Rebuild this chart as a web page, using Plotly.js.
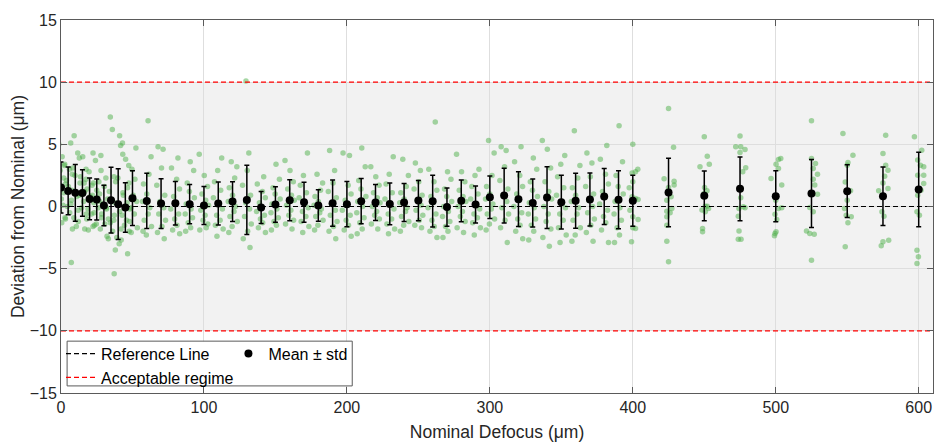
<!DOCTYPE html>
<html>
<head>
<meta charset="utf-8">
<script src="https://cdn.plot.ly/plotly-3.0.1.min.js"></script>
<style>html,body{margin:0;padding:0;background:#fff;}#chart{width:935px;height:442px;}</style>
</head>
<body>
<div id="chart"></div>
<script>
// ---- Data ----
const nominalX = [0,5,10,15,20,25,30,35,40,45,50,
  60,70,80,90,100,110,120,130,140,150,160,170,180,190,200,210,220,230,240,250,260,270,
  280,290,300,310,320,330,340,350,360,370,380,390,400,
  425,450,475,500,525,550,575,600];

const meanDev = [1.53,1.25,1.10,1.09,0.61,0.56,0.08,0.51,0.19,-0.08,0.67,
  0.45,0.24,0.27,0.19,0.08,0.24,0.40,0.53,
  -0.08,0.16,0.51,0.35,0.08,0.27,0.19,0.43,0.32,0.21,0.32,0.48,0.43,-0.05,
  0.46,0.16,0.75,0.88,0.59,0.29,0.72,0.35,0.46,0.56,0.80,0.54,0.47,
  1.13,0.86,1.42,0.83,1.05,1.23,0.83,1.37];

const stdDev = [2.05,1.92,2.28,1.87,1.68,1.65,1.63,2.64,2.85,2.00,2.20,
  2.22,2.00,1.75,1.58,1.52,1.73,1.60,2.78,
  1.29,1.43,1.65,1.61,1.27,1.86,1.82,1.82,1.45,1.68,1.52,1.62,2.08,1.54,
  1.68,1.49,1.71,2.20,2.20,1.93,2.48,2.16,2.21,2.13,2.25,2.33,2.05,
  2.76,2.00,2.56,2.05,2.73,2.12,2.35,3.00];

// individual measurements: x offset from the nominal position, and deviation
const sampleDX = [
  [-1.5,0.8,2.6,-0.5,1.9,3.1,-2.4,0.2,1.4,-1.0,2.8,0.5],
  [1.8,-2.7,0.9,2.9,-1.2,0.1,-3.2,2.3,-0.5,1.1,-1.9,3.0],
  [-0.8,2.8,-1.7,-0.2,3.3,-2.4,1.0,-3.1,2.0,-1.0,0.7,-2.8],
  [-3.3,0.2,2.5,-1.4,1.2,3.2,-2.2,0.8,-0.6,2.7,-2.9,1.6],
  [2.4,-0.4,-2.6,1.7,-3.4,0.5,2.9,-1.1,1.3,-2.0,3.4,-0.9],
  [-0.9,3.0,1.5,-2.3,0.0,-3.0,2.1,1.0,-1.8,3.3,-0.3,-2.6],
  [-2.1,1.4,0.3,-3.0,2.6,-0.8,1.9,-1.6,3.1,0.6,-2.5,2.2],
  [-0.5,0.9,2.1,3.2,-1.2,0.1,-3.2,2.3,-0.5,1.1,-1.9,3.0],
  [1.0,3.0,3.2,-0.2,3.3,-2.4,1.0,-3.1,2.0,-1.0,0.7,-2.8],
  [-3.3,0.2,2.5,-1.4,1.2,3.2,-2.2,0.8,-0.6,2.7,-2.9,1.6],
  [2.4,-0.4,-2.6,1.7,-3.4,0.5,2.9,-1.1,1.3,-2.0,3.4,-0.9],
  [0.9,3.0,1.5,-2.3,0.0,-3.0,2.1,1.0,-1.8,3.3,-0.3,-2.6],
  [-2.1,1.4,0.3,-3.0,2.6,-0.8,1.9,-1.6,3.1,0.6,-2.5,2.2],
  [1.8,-2.7,0.9,2.9,-1.2,0.1,-3.2,2.3,-0.5,1.1,-1.9,3.0],
  [0.4,2.8,-1.7,-0.2,3.3,-2.4,1.0,-3.1,2.0,-1.0,0.7,-2.8],
  [-3.3,0.2,2.5,-1.4,1.2,3.2,-2.2,0.8,-0.6,2.7,-2.9,1.6],
  [2.4,-0.4,-2.6,1.7,-3.4,0.5,2.9,-1.1,1.3,-2.0,3.4,-0.9],
  [-0.9,3.0,1.5,-2.3,0.0,-3.0,2.1,1.0,-1.8,3.3,-0.3,-2.6],
  [-0.6,1.4,0.3,-3.0,2.6,-0.8,1.9,-1.6,3.1,0.6,-2.5,2.2],
  [1.8,-2.7,0.9,2.9,-1.2,0.1,-3.2,2.3,-0.5,1.1,-1.9,3.0],
  [0.4,2.8,-1.7,-0.2,3.3,-2.4,1.0,-3.1,2.0,-1.0,0.7,-2.8],
  [-3.3,0.2,2.5,-1.4,1.2,3.2,-2.2,0.8,-0.6,2.7,-2.9,1.6],
  [2.4,-0.4,-2.6,1.7,-3.4,0.5,2.9,-1.1,1.3,-2.0,3.4,-0.9],
  [-0.9,3.0,1.5,-2.3,0.0,-3.0,2.1,1.0,-1.8,3.3,-0.3,-2.6],
  [-2.1,1.4,0.3,-3.0,2.6,-0.8,1.9,-1.6,3.1,0.6,-2.5,2.2],
  [1.8,-2.7,0.9,2.9,-1.2,0.1,-3.2,2.3,-0.5,1.1,-1.9,3.0],
  [0.4,2.8,-1.7,-0.2,3.3,-2.4,1.0,-3.1,2.0,-1.0,0.7,-2.8],
  [-3.3,0.2,2.5,-1.4,1.2,3.2,-2.2,0.8,-0.6,2.7,-2.9,1.6],
  [2.4,-0.4,-2.6,1.7,-3.4,0.5,2.9,-1.1,1.3,-2.0,3.4,-0.9],
  [-0.9,3.0,1.5,-2.3,0.0,-3.0,2.1,1.0,-1.8,3.3,-0.3,-2.6],
  [-2.1,1.4,0.3,-3.0,2.6,-0.8,1.9,-1.6,3.1,0.6,-2.5,2.2],
  [1.8,-2.7,0.9,2.9,-1.2,0.1,-3.2,2.3,-0.5,1.1,-1.9,3.0],
  [0.4,2.8,-1.7,-0.2,3.3,-2.4,1.0,-3.1,2.0,-1.0,0.7,-2.8],
  [-3.3,0.2,2.5,-1.4,1.2,3.2,-2.2,0.8,-0.6,2.7,-2.9,1.6],
  [2.4,-0.4,-2.6,1.7,-3.4,0.5,2.9,-1.1,1.3,-2.0,3.4,-0.9],
  [-0.9,3.0,1.5,-2.3,0.0,-3.0,2.1,1.0,-1.8,3.3,-0.3,-2.6],
  [-2.1,1.4,0.3,-3.0,2.6,-0.8,1.9,-1.6,3.1,0.6,-2.5,2.2],
  [1.8,-2.7,0.9,2.9,-1.2,0.1,-3.2,2.3,-0.5,1.1,-1.9,3.0],
  [0.4,2.8,-1.7,-0.2,3.3,-2.4,1.0,-3.1,2.0,-1.0,0.7,-2.8],
  [-3.3,0.2,2.5,-1.4,1.2,3.2,-2.2,0.8,-0.6,2.7,-2.9,1.6],
  [2.4,-0.4,-2.6,1.7,-3.4,0.5,2.9,-1.1,1.3,-2.0,3.4,-0.9],
  [-0.9,3.0,1.5,-2.3,0.0,-3.0,2.1,1.0,-1.8,3.3,-0.3,-2.6],
  [-2.1,1.4,0.3,-3.0,2.6,-0.8,1.9,-1.6,3.1,0.6,-2.5,2.2],
  [1.8,-2.7,0.9,2.9,-1.2,0.1,-3.2,2.3,-0.5,1.1,-1.9,3.0],
  [0.4,2.8,-1.7,-0.2,3.3,-2.4,1.0,-3.1,2.0,-1.0,0.7,-2.8],
  [0,-0.5,1.9,3.5,0,1.9,3.7,-0.5,0,3.7,0,1.9,-0.9,-2.0,-2.5],
  [0,3.5,-3.1,3.9,3.9,0,1.8,-1.2,2.3,-1.2,1.1,-1.2,-1.2,-1.2,0],
  [0,2.1,-3.0,3.5,0.2,1.9,-0.2,2.1,-1.6,3.0,0.7,-1.2,-1.2,0.7],
  [0,-3.0,0.5,3.5,0,4.0,1.9,0.5,0.5,2.3,-0.7,-1.2,-0.7,-1.2,0.7,3.5],
  [3.5,1.9,0.2,1.9,-3.3,4.2,0,1.9,4.2,-0.5,0.7,0.2,-0.5,-0.9],
  [0,0,2.8,1.2,4.2,1.2,2.3,4.2,-1.2,1.2,-3.5,-1.2,1.9,0],
  [-3.0,4.0,0.5,0,-1.4,2.3,0,-1.9,-0.7,0.5,-1.4,2.8],
  [1.9,0,1.9,3.5,1.2,0,3.5,-3.0,-0.7,0.7,4.0,0,-1.2],
  [-3.0,2.1,-0.7,3.5,1.2,-0.7,3.5,1.6,-0.7,-1.2,0.5,-1.2,-0.2,-1.2,3.5]
];

const sampleDev = [
  [5.0,4.0,3.4,2.9,2.3,1.8,1.2,0.6,0.1,-0.4,-0.9,-1.3],
  [5.1,3.3,3.0,2.6,2.1,1.6,1.1,0.5,0.0,-0.5,-1.0,-1.8],
  [5.7,3.9,3.1,2.5,1.9,1.3,0.8,0.2,-0.3,-0.9,-1.6,-4.5],
  [4.3,4.0,3.0,2.4,1.9,1.4,0.9,0.4,-0.1,-0.6,-1.2,-1.8],
  [4.3,2.8,2.2,1.7,1.2,0.8,0.3,-0.2,-0.6,-1.0,-1.5,-1.9],
  [3.7,2.9,2.0,1.9,1.3,0.9,0.4,-0.1,-0.5,-0.9,-1.4,-1.6],
  [4.1,2.3,1.6,1.0,0.6,0.2,-0.2,-0.6,-1.0,-1.4,-1.8,-2.4],
  [7.2,6.2,2.4,2.0,1.2,0.5,-0.1,-0.7,-1.3,-2.0,-2.6,-3.5],
  [5.7,5.1,4.2,2.3,1.1,0.3,-0.4,-1.1,-1.8,-2.5,-3.0,-5.4],
  [4.9,3.8,1.9,0.9,0.3,-0.2,-0.7,-1.1,-1.5,-2.0,-2.7,-3.8],
  [4.7,3.0,3.3,2.2,1.5,0.9,0.4,-0.1,-0.6,-1.2,-1.7,-2.1],
  [6.9,4.0,2.6,1.8,1.0,0.4,-0.1,-0.6,-1.1,-1.6,-2.3,-2.0],
  [4.8,4.6,3.1,1.7,0.9,0.4,-0.1,-0.6,-1.1,-1.6,-2.1,-2.6],
  [3.9,3.1,2.2,1.4,0.8,0.3,-0.2,-0.6,-1.0,-1.5,-1.9,-2.2],
  [3.6,2.9,1.9,1.2,0.7,0.2,-0.2,-0.6,-0.9,-1.3,-1.7,-2.0],
  [4.2,2.5,1.6,1.0,0.5,0.1,-0.3,-0.7,-1.1,-1.4,-1.9,-1.7],
  [3.9,2.9,2.0,1.3,0.7,0.2,-0.2,-0.7,-1.1,-1.5,-1.8,-2.4],
  [3.6,3.2,2.3,1.5,0.9,0.4,0.0,-0.4,-0.8,-1.2,-1.6,-2.1],
  [10.1,4.3,2.9,1.7,0.9,0.3,-0.2,-0.8,-1.4,-2.0,-2.6,-3.3],
  [2.4,1.8,1.2,0.7,0.3,-0.1,-0.4,-0.7,-1.0,-1.3,-1.7,-2.1],
  [3.4,2.2,1.5,1.0,0.6,0.2,-0.2,-0.5,-0.9,-1.2,-1.5,-1.9],
  [3.7,2.9,2.0,1.4,0.9,0.5,0.1,-0.3,-0.7,-1.1,-1.4,-1.8],
  [4.3,2.5,1.7,1.1,0.7,0.3,-0.1,-0.4,-0.8,-1.2,-1.6,-2.1],
  [2.6,1.9,1.3,0.8,0.4,0.1,-0.2,-0.5,-0.8,-1.1,-1.5,-1.9],
  [4.5,2.9,1.9,1.2,0.7,0.2,-0.3,-0.7,-1.2,-1.6,-2.0,-2.6],
  [4.1,4.3,1.7,1.0,0.5,0.1,-0.3,-0.7,-1.1,-1.5,-1.9,-2.4],
  [4.7,3.2,2.1,1.4,0.8,0.4,0.0,-0.5,-0.9,-1.3,-1.8,-2.2],
  [3.2,2.4,1.7,1.1,0.7,0.3,0.0,-0.4,-0.7,-1.0,-1.4,-1.8],
  [4.0,2.6,1.8,1.1,0.6,0.2,-0.2,-0.6,-1.0,-1.4,-1.8,-2.2],
  [3.8,2.5,1.6,1.1,0.6,0.3,-0.1,-0.4,-0.8,-1.2,-1.5,-2.0],
  [3.5,2.9,2.0,1.4,0.9,0.5,0.1,-0.3,-0.7,-1.1,-1.5,-1.7],
  [6.8,3.0,2.0,1.3,0.8,0.3,-0.1,-0.6,-1.1,-1.6,-2.0,-2.5],
  [2.8,2.2,1.4,0.8,0.4,0.0,-0.4,-0.8,-1.2,-1.6,-2.0,-2.5],
  [4.2,2.8,2.0,1.3,0.8,0.4,0.0,-0.4,-0.8,-1.2,-1.7,-2.1],
  [3.0,2.5,1.6,1.0,0.6,0.2,-0.2,-0.6,-0.9,-1.3,-1.7,-2.3],
  [5.3,4.3,2.5,1.6,1.0,0.6,0.2,-0.2,-0.6,-1.0,-1.4,-1.9],
  [4.8,4.5,3.2,2.1,1.4,0.9,0.4,-0.1,-0.6,-1.1,-1.7,-2.9],
  [4.8,3.6,2.5,1.6,1.0,0.5,0.0,-0.5,-1.0,-1.5,-2.0,-2.6],
  [3.9,3.0,2.0,1.3,0.8,0.3,-0.1,-0.6,-1.0,-1.5,-2.0,-2.7],
  [5.3,4.6,3.1,2.0,1.2,0.6,0.0,-0.6,-1.2,-1.8,-2.5,-3.2],
  [4.1,3.4,2.4,1.5,0.9,0.4,-0.1,-0.6,-1.1,-1.7,-2.3,-2.9],
  [6.1,3.3,2.3,1.5,0.9,0.4,-0.1,-0.6,-1.1,-1.7,-2.3,-2.8],
  [4.3,3.5,2.4,1.6,1.0,0.5,0.0,-0.5,-1.0,-1.5,-2.1,-2.8],
  [4.9,3.8,2.6,1.8,1.2,0.7,0.2,-0.3,-0.8,-1.3,-1.9,-2.9],
  [6.5,3.6,2.5,1.6,1.0,0.4,-0.1,-0.6,-1.1,-1.7,-2.3,-2.9],
  [5.0,2.7,2.8,3.0,2.0,0.64,0.56,0.78,-0.83,-1.05,-1.7,-1.77,-2.84,-0.3,1.5],
  [7.88,4.77,2.23,2.04,1.72,1.53,0.78,0.51,-0.16,-0.38,-0.51,-0.83,-1.5,-2.79,-4.45],
  [5.6,4.05,3.19,3.4,1.53,1.26,1.05,0.03,-0.29,-0.16,-0.43,-1.77,-2.04,0.03],
  [5.68,4.8,4.8,4.58,4.34,3.11,2.79,1.45,0.7,-0.03,-0.16,-0.78,-1.98,-2.63,-2.63,-0.1],
  [3.86,3.78,3.4,3.06,2.25,1.72,0.51,-0.16,-0.1,-0.62,-1.05,-2.04,-2.17,-2.36],
  [6.89,3.86,3.46,3.06,2.6,2.2,1.72,0.99,-0.08,-0.43,-1.98,-2.17,-2.23,-4.32],
  [5.87,4.13,3.54,3.32,1.98,1.26,0.51,-0.16,-0.7,-1.31,-3.24,-0.83],
  [5.74,4.26,3.32,2.92,2.44,1.9,1.45,1.26,-0.43,-0.78,-2.71,-2.84,-3.16],
  [5.6,4.53,3.73,3.19,3.32,2.52,1.85,1.31,0.91,-0.43,-0.7,-3.51,-4.05,-4.58,2.52]
];

const xRange = [0, 610];
const yRange = [-15, 15];
const referenceLevel = 0;
const acceptableLimits = [-10, 10];
const xTicks = [0,100,200,300,400,500,600];
const yTicks = [-15,-10,-5,0,5,10,15];

// ---- Build traces ----
const ptsX = [], ptsY = [];
nominalX.forEach((nx, i) => {
  sampleDev[i].forEach((v, j) => { ptsX.push(nx + sampleDX[i][j]); ptsY.push(v); });
});

const FONT = 'Liberation Sans, Arial, Helvetica, sans-serif';

const traces = [
  {
    x: ptsX, y: ptsY, type: 'scatter', mode: 'markers', showlegend: false, hoverinfo: 'skip',
    marker: {size: 5.5, color: 'rgba(77,175,74,0.5)', line: {width: 0}}
  },
  {
    x: xRange, y: [referenceLevel, referenceLevel], type: 'scatter', mode: 'lines',
    name: 'Reference Line', legend: 'legend',
    line: {color: '#000000', width: 1.2, dash: '5px,3px'}
  },
  {
    x: [xRange[0], xRange[1], null, xRange[0], xRange[1]],
    y: [acceptableLimits[1], acceptableLimits[1], null, acceptableLimits[0], acceptableLimits[0]],
    type: 'scatter', mode: 'lines', name: 'Acceptable regime', legend: 'legend',
    line: {color: '#ff0000', width: 1.2, dash: '5px,3px'}
  },
  {
    x: nominalX, y: meanDev, type: 'scatter', mode: 'markers', name: 'Mean ± std', legend: 'legend2',
    marker: {size: 8, color: '#000000'},
    error_y: {type: 'data', array: stdDev, visible: true, color: '#000000', thickness: 1.5, width: 2.5}
  }
];

const axisCommon = {
  showline: true, linecolor: '#5a5a5a', linewidth: 1, mirror: 'ticks',
  ticks: 'inside', ticklen: 6, tickcolor: '#5a5a5a', tickwidth: 1,
  showgrid: true, gridcolor: '#dedede', gridwidth: 1, zeroline: false,
  tickfont: {family: FONT, size: 16, color: '#262626'}
};

const layout = {
  width: 935, height: 442,
  margin: {l: 61, r: 2, t: 20, b: 49},
  paper_bgcolor: '#ffffff', plot_bgcolor: '#ffffff',
  font: {family: FONT, color: '#262626'},
  xaxis: Object.assign({}, axisCommon, {
    range: xRange, tickvals: xTicks, autorange: false,
    title: {text: 'Nominal Defocus (μm)', font: {family: FONT, size: 17.5, color: '#262626'}, standoff: 11}
  }),
  yaxis: Object.assign({}, axisCommon, {
    range: yRange, tickvals: yTicks, autorange: false,
    title: {text: 'Deviation from Nominal (μm)', font: {family: FONT, size: 17.5, color: '#262626'}, standoff: 0}
  }),
  shapes: [
    {type: 'rect', layer: 'below', xref: 'paper', yref: 'y', x0: 0, x1: 1,
     y0: acceptableLimits[0], y1: acceptableLimits[1], fillcolor: '#f2f2f2', line: {width: 0}},
    {type: 'rect', layer: 'above', xref: 'paper', yref: 'paper', x0: 0.007, x1: 0.334, y0: 0.019, y1: 0.139,
     fillcolor: '#ffffff', line: {color: '#5a5a5a', width: 1}}
  ],
  legend: {x: 0.0, y: 0.151, xanchor: 'left', yanchor: 'top', orientation: 'v',
    bgcolor: 'rgba(0,0,0,0)', borderwidth: 0, tracegroupgap: 0,
    font: {family: FONT, size: 16, color: '#000000'}},
  legend2: {x: 0.192, y: 0.151, xanchor: 'left', yanchor: 'top', orientation: 'v',
    bgcolor: 'rgba(0,0,0,0)', borderwidth: 0,
    font: {family: FONT, size: 16, color: '#000000'}},
  showlegend: true
};

Plotly.newPlot('chart', traces, layout, {staticPlot: true, displayModeBar: false});
</script>
</body>
</html>
